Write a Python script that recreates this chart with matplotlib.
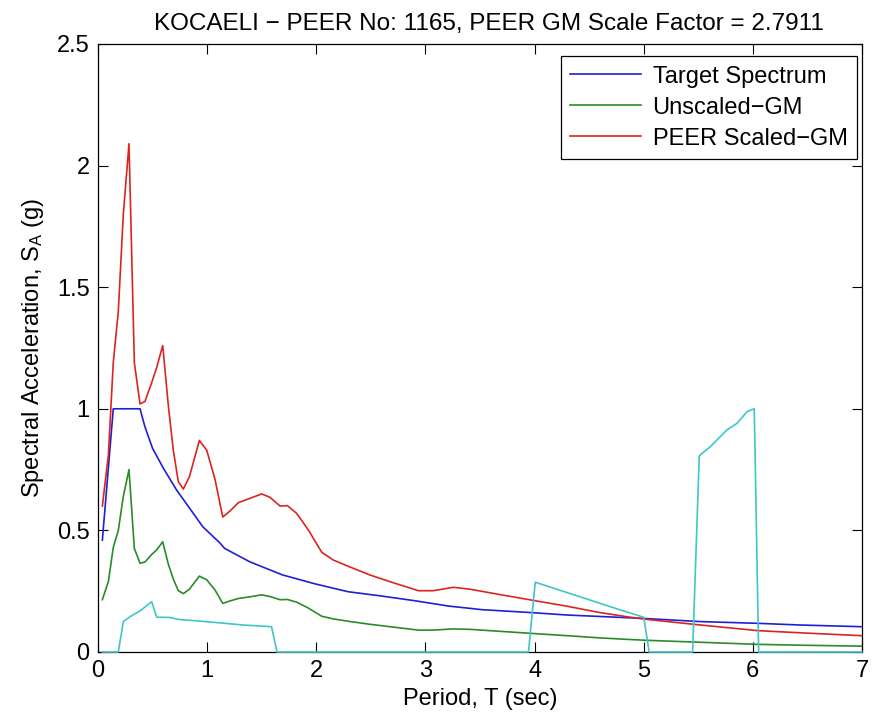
import matplotlib
matplotlib.use("Agg")
import matplotlib.pyplot as plt

plt.rcParams['font.family'] = ['Liberation Sans', 'DejaVu Sans']
plt.rcParams['mathtext.fontset'] = 'custom'
plt.rcParams['mathtext.rm'] = 'Liberation Sans'
plt.rcParams['mathtext.it'] = 'Liberation Sans'

# Target design spectrum
target_T = [0.04, 0.14, 0.385, 0.43, 0.50, 0.60, 0.72, 0.84, 0.96, 1.12, 1.16,
            1.39, 1.69, 1.99, 2.29, 2.60, 2.90, 3.21, 3.52, 3.97, 4.30, 4.75,
            5.0, 5.52, 6.04, 6.43, 7.0]
target_sa = [0.46, 1.0, 1.0, 0.926, 0.837, 0.755, 0.666, 0.591, 0.515, 0.447, 0.426,
             0.371, 0.317, 0.28, 0.248, 0.23, 0.211, 0.189, 0.174, 0.162, 0.152, 0.143,
             0.138, 0.125, 0.118, 0.111, 0.104]

# Ground-motion response spectra (periods shared by both records)
gm_T = [0.04, 0.095, 0.14, 0.186, 0.232, 0.284, 0.333, 0.385, 0.43, 0.49,
        0.538, 0.593, 0.645, 0.69, 0.736, 0.782, 0.837, 0.929, 0.996, 1.072,
        1.143, 1.21, 1.286, 1.393, 1.50, 1.576, 1.668, 1.735, 1.82, 1.93,
        2.05, 2.157, 2.30, 2.49, 2.676, 2.936, 3.07, 3.257, 3.41, 3.685,
        3.99, 4.30, 4.60, 4.846, 5.03, 5.52, 6.04, 6.43, 7.0]
unscaled_sa = [0.215, 0.29, 0.43, 0.50, 0.64, 0.75, 0.426, 0.365, 0.37, 0.40,
               0.42, 0.453, 0.36, 0.30, 0.252, 0.24, 0.258, 0.312, 0.297, 0.255,
               0.20, 0.21, 0.22, 0.227, 0.235, 0.228, 0.215, 0.216, 0.205, 0.18,
               0.147, 0.136, 0.126, 0.114, 0.104, 0.09, 0.09, 0.095, 0.093, 0.085,
               0.076, 0.067, 0.058, 0.052, 0.048, 0.04, 0.0315, 0.028, 0.024]
scaled_sa = [0.60, 0.81, 1.19, 1.40, 1.80, 2.09, 1.19, 1.02, 1.03, 1.105,
             1.17, 1.26, 1.01, 0.83, 0.70, 0.67, 0.72, 0.87, 0.83, 0.71,
             0.555, 0.58, 0.614, 0.632, 0.65, 0.636, 0.60, 0.602, 0.57, 0.50,
             0.41, 0.378, 0.351, 0.317, 0.289, 0.252, 0.252, 0.266, 0.258, 0.236,
             0.212, 0.188, 0.162, 0.145, 0.134, 0.111, 0.088, 0.079, 0.067]

# Period-range weighting
weight_T = [0.04, 0.186, 0.232, 0.293, 0.385, 0.492, 0.538, 0.66, 0.736, 0.935,
            1.16, 1.33, 1.59, 1.64, 3.944, 4.006, 4.785, 5.0, 5.05, 5.448,
            5.509, 5.61, 5.762, 5.854, 5.946, 6.013, 6.053, 7.0]
weight_val = [0, 0, 0.125, 0.145, 0.169, 0.207, 0.143, 0.142, 0.134, 0.127,
              0.118, 0.111, 0.104, 0, 0, 0.287, 0.173, 0.143, 0, 0,
              0.807, 0.844, 0.913, 0.94, 0.988, 1.0, 0, 0]

record_name = "KOCAELI"
peer_no = 1165
scale_factor = 2.7911

fig = plt.figure(figsize=(8.89, 7.17), dpi=100)
ax = fig.add_axes([98 / 889, 65 / 717, 764 / 889, 608 / 717])

lw = 1.2
ax.plot(target_T, target_sa, color='#1f1fd6', lw=lw, label='Target Spectrum')
ax.plot(gm_T, unscaled_sa, color='#2a8a2a', lw=lw, label='Unscaled\u2212GM')
ax.plot(gm_T, scaled_sa, color='#dd2222', lw=lw, label='PEER Scaled\u2212GM')
ax.plot(weight_T, weight_val, color='#3fc6c6', lw=lw, label='_nolegend_', clip_on=False, zorder=3)

ax.set_xlim(0, 7)
ax.set_ylim(0, 2.5)
ax.set_xticks(range(0, 8))
ax.set_yticks([0, 0.5, 1, 1.5, 2, 2.5])
ax.set_yticklabels(['0', '0.5', '1', '1.5', '2', '2.5'])
ax.tick_params(direction='in', length=7, width=0.8, top=True, right=True,
               labelsize=17, pad=6, colors='black')
for s in ax.spines.values():
    s.set_linewidth(0.9)
    s.set_color('black')

ax.set_xlabel('Period, T (sec)', fontsize=17, labelpad=4)
ax.set_ylabel(r'Spectral Acceleration, S$_{\mathrm{A}}$ (g)', fontsize=17, labelpad=8)
ax.set_title(f'{record_name} \u2212 PEER No: {peer_no}, PEER GM Scale Factor = {scale_factor}',
             fontsize=17.5, pad=10, x=0.512)

leg = ax.legend(loc='upper right', bbox_to_anchor=(0.9935, 0.98), borderaxespad=0,
                fontsize=17, fancybox=False, framealpha=1, edgecolor='black',
                handlelength=3.0, handletextpad=0.5, labelspacing=0.38, borderpad=0.4)
leg.get_frame().set_linewidth(0.9)

fig.savefig('out.png', dpi=100)
